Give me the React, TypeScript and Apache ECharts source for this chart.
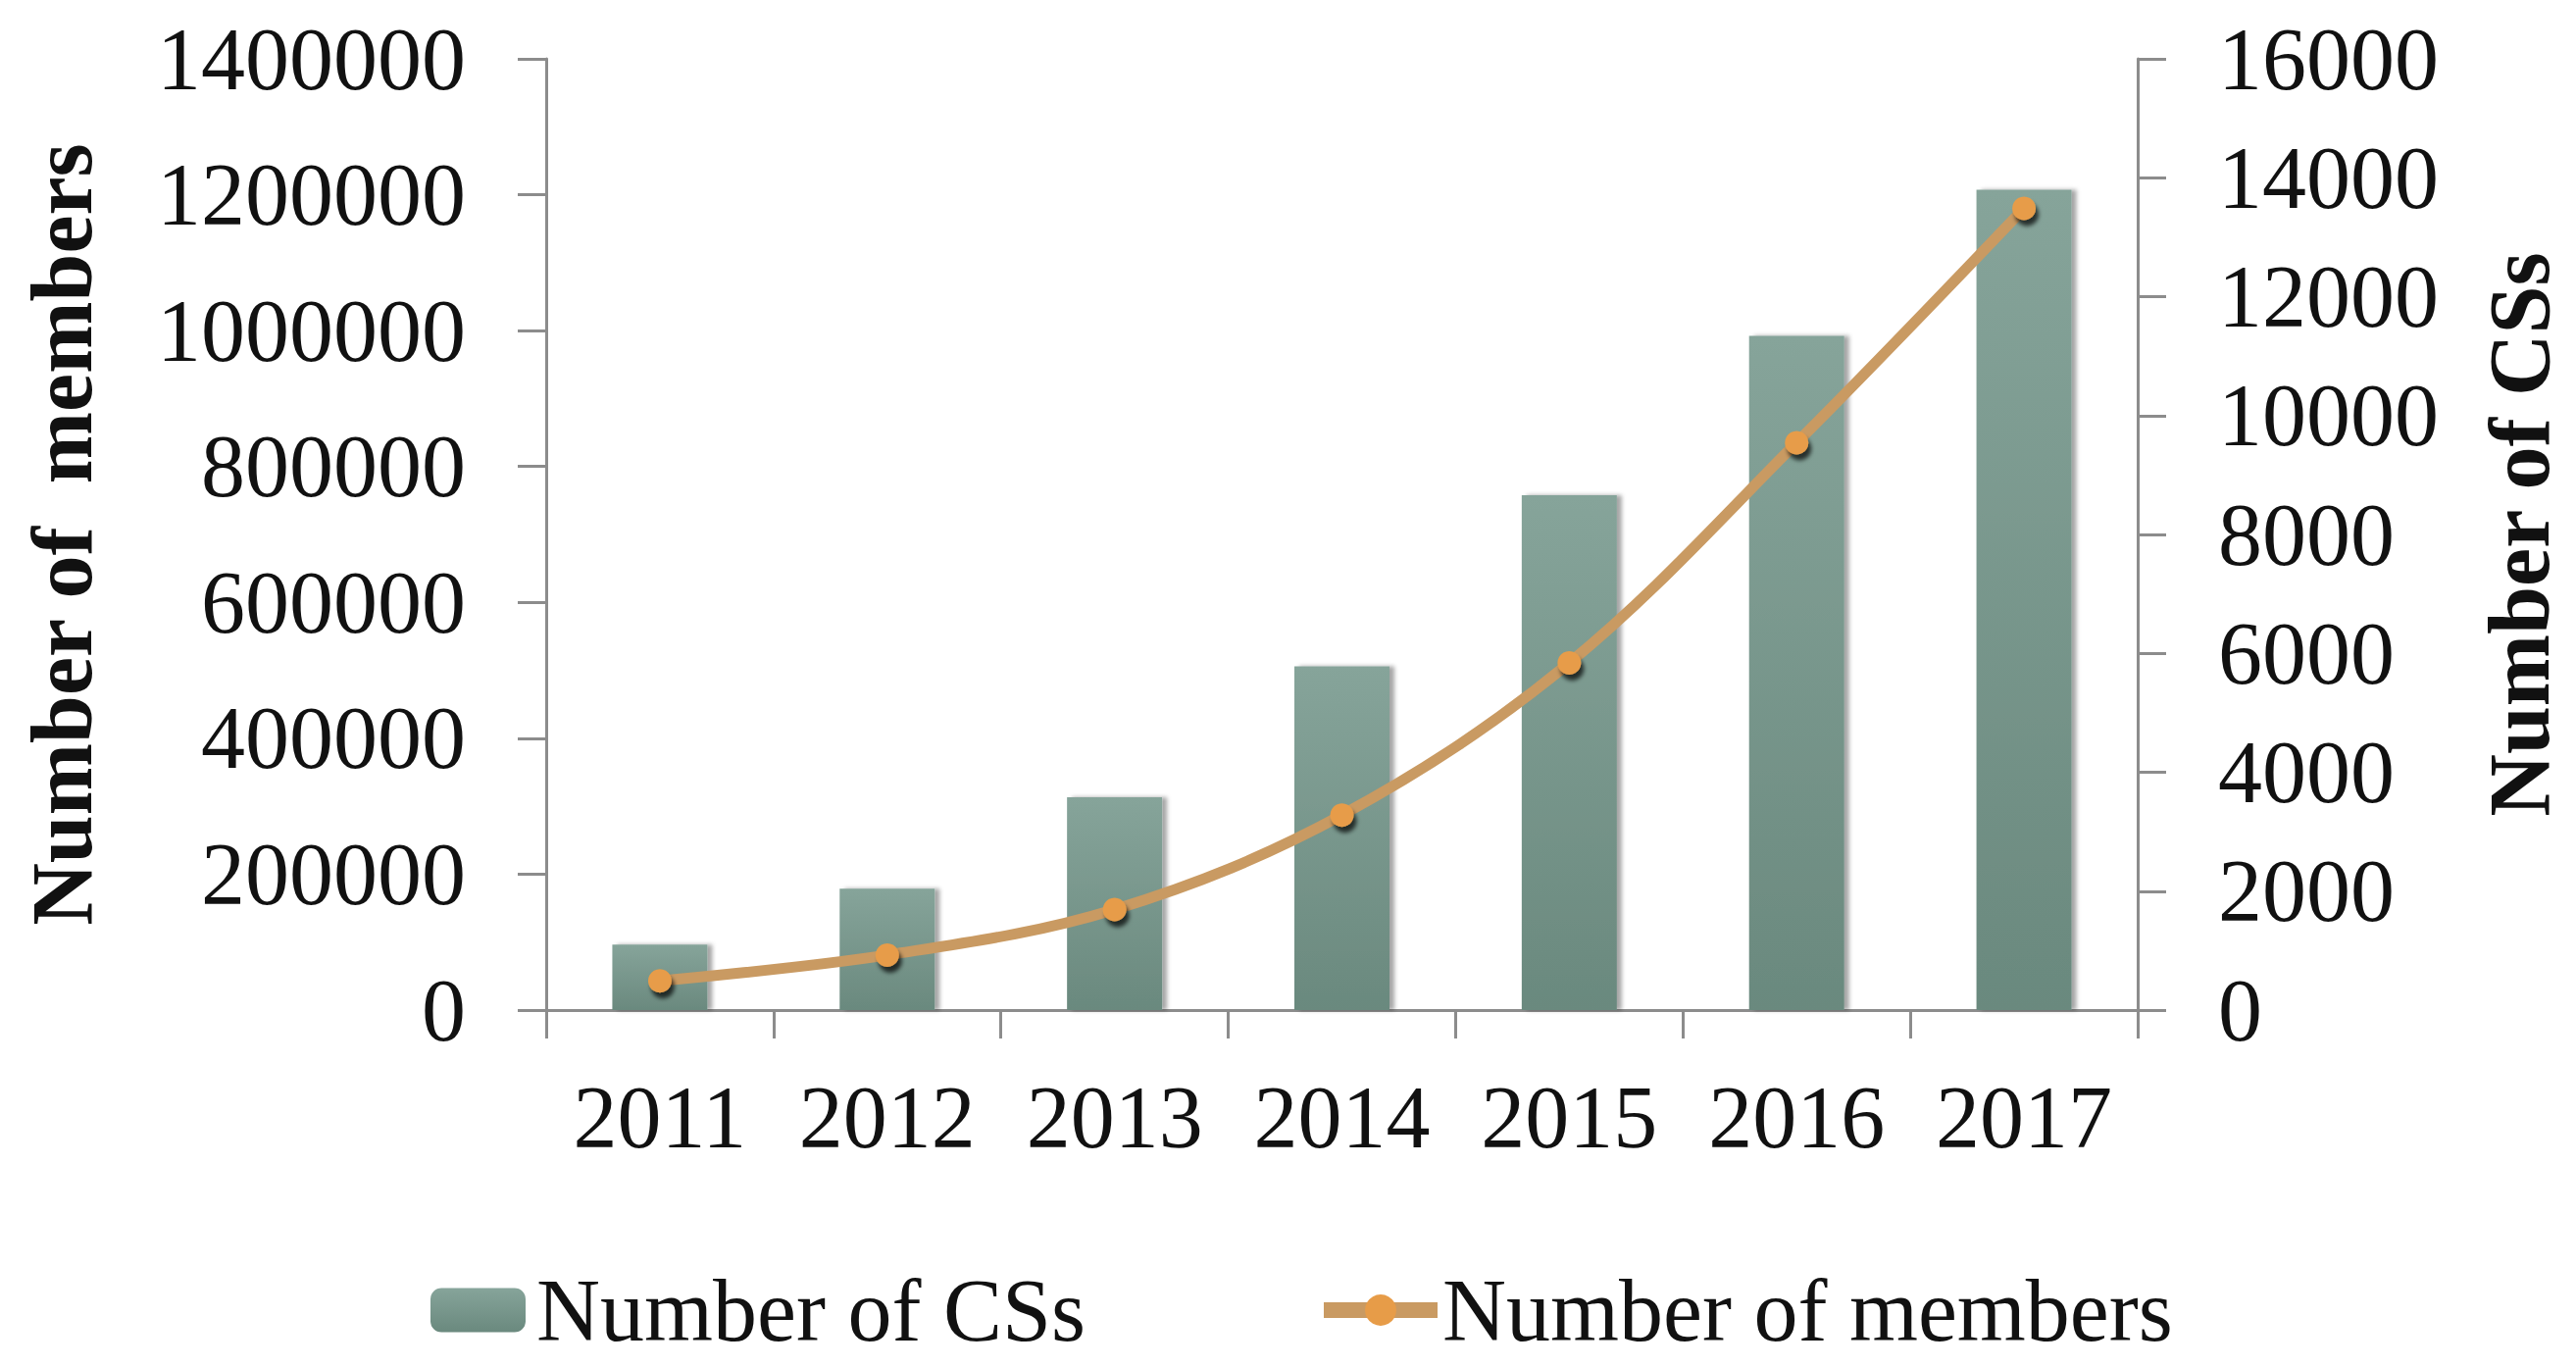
import React, { useEffect, useRef } from "react";
import * as echarts from "echarts";

const years = ["2011", "2012", "2013", "2014", "2015", "2016", "2017"];
const csCounts = [1100, 2040, 3580, 5780, 8660, 11340, 13800];
const memberCounts = [43000, 81000, 148000, 287000, 511000, 835000, 1180000];
const memberAxisMax = 1400000;
const memberAxisStep = 200000;
const csAxisMax = 16000;
const csAxisStep = 2000;

const FONT = "'Liberation Serif', 'Times New Roman', serif";
const AXIS_COLOR = "#8c8c8c";

export default function App() {
  const ref = useRef<HTMLDivElement>(null);

  useEffect(() => {
    if (!ref.current) return;
    const chart = echarts.init(ref.current, undefined, { renderer: "svg" });
    const axisLine = { show: true, lineStyle: { color: AXIS_COLOR, width: 3 } };
    const axisTick = { show: true, inside: false, length: 29, lineStyle: { color: AXIS_COLOR, width: 3 } };
    const labelStyle = { color: "#111", fontFamily: FONT, fontSize: 90 };
    const plain = (v: number) => String(v);

    chart.setOption({
      animation: false,
      backgroundColor: "#ffffff",
      grid: { left: 557, right: 447, top: 60, bottom: 364, containLabel: false },
      legend: [
        {
          data: ["Number of CSs"],
          left: 434,
          top: 1286,
          itemWidth: 97,
          itemHeight: 45,
          textStyle: { ...labelStyle, padding: [0, 0, 0, 6] },
        },
        {
          data: ["Number of members"],
          left: 1337,
          top: 1286,
          itemWidth: 116,
          itemHeight: 40,
          lineStyle: { width: 16 },
          textStyle: { ...labelStyle },
        },
      ],
      xAxis: {
        type: "category",
        data: years,
        boundaryGap: true,
        axisLine,
        axisTick: { ...axisTick, alignWithLabel: false, interval: 0 },
        axisLabel: { ...labelStyle, margin: 64, interval: 0 },
        splitLine: { show: false },
      },
      yAxis: [
        {
          type: "value",
          position: "left",
          min: 0,
          max: memberAxisMax,
          interval: memberAxisStep,
          name: "Number of  members",
          nameLocation: "middle",
          nameGap: 450,
          nameTextStyle: { color: "#111", fontFamily: FONT, fontSize: 88, fontWeight: "bold" },
          axisLine,
          axisTick,
          axisLabel: { ...labelStyle, margin: 82, formatter: plain },
          splitLine: { show: false },
        },
        {
          type: "value",
          position: "right",
          min: 0,
          max: csAxisMax,
          interval: csAxisStep,
          name: "Number of CSs",
          nameLocation: "middle",
          nameGap: 345,
          nameTextStyle: { color: "#111", fontFamily: FONT, fontSize: 88, fontWeight: "bold" },
          axisLine,
          axisTick,
          axisLabel: { ...labelStyle, margin: 82, formatter: plain },
          splitLine: { show: false },
        },
      ],
      series: [
        {
          name: "Number of CSs",
          type: "bar",
          yAxisIndex: 1,
          data: csCounts,
          barWidth: 97,
          itemStyle: {
            color: new echarts.graphic.LinearGradient(0, 0, 0, 1, [
              { offset: 0, color: "#86a49a" },
              { offset: 1, color: "#6a897e" },
            ]),
            shadowColor: "rgba(0,0,0,0.35)",
            shadowOffsetX: 5,
            shadowOffsetY: 0,
            shadowBlur: 4,
          },
          z: 2,
        },
        {
          name: "Number of members",
          type: "line",
          yAxisIndex: 0,
          data: memberCounts,
          smooth: 0.35,
          symbol: "circle",
          symbolSize: 24,
          lineStyle: { color: "#c99a62", width: 11 },
          itemStyle: {
            color: "#e79c48",
            shadowColor: "rgba(0,0,0,0.7)",
            shadowOffsetX: 3,
            shadowOffsetY: 6,
            shadowBlur: 4,
          },
          z: 5,
        },
      ],
    });

    return () => chart.dispose();
  }, []);

  return (
    <div
      ref={ref}
      style={{ position: "fixed", left: 0, top: 0, width: 2627, height: 1394, background: "#fff" }}
    />
  );
}
